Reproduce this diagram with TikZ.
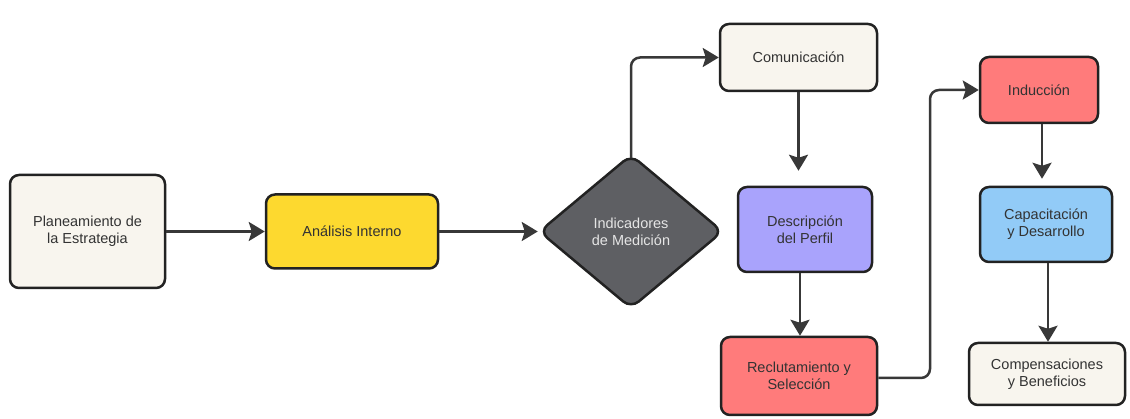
\documentclass[tikz,border=0pt]{standalone}
\usepackage{fontspec}
\setmainfont{Liberation Sans}
\usetikzlibrary{arrows.meta,shapes.geometric,calc}
\definecolor{cream}{HTML}{F8F5EE}
\definecolor{yel}{HTML}{FDD92F}
\definecolor{dgray}{HTML}{5E5F63}
\definecolor{purp}{HTML}{A9A3FC}
\definecolor{salmon}{HTML}{FF7B7B}
\definecolor{lblue}{HTML}{92CBF7}
\definecolor{edge}{HTML}{222222}
\definecolor{txt}{HTML}{333333}
\begin{document}
\begin{tikzpicture}[x=1pt,y=-1pt,
  box/.style={draw=edge,line width=2.5pt,rounded corners=9pt,align=center,
    font=\fontsize{14.5}{17}\selectfont,text=txt,inner sep=0pt},
  conn/.style={draw=edge!90!white,line width=2.5pt,-{Stealth[length=16pt,width=19pt,inset=3pt]}},
]
\useasboundingbox (0,0) rectangle (1130,419);
\fill[white] (0,0) rectangle (1130,419);

\node[box,fill=cream,minimum width=155pt,minimum height=113pt] (plan) at (87.5,231.5) {Planeamiento de\\la Estrategia};
\node[box,fill=yel,minimum width=172pt,minimum height=74pt] (anal) at (352,231.5) {Análisis Interno};
\node[draw=edge,line width=2.5pt,fill=dgray,diamond,rounded corners=10pt,minimum width=184pt,minimum height=154pt,inner sep=0pt,align=center,font=\fontsize{14.5}{17}\selectfont,text=white!90!black] (diam) at (631,231.5) {Indicadores\\de Medición};
\node[box,fill=cream,minimum width=157pt,minimum height=67pt] (comm) at (798.5,57.5) {Comunicación};
\node[box,fill=purp,minimum width=134pt,minimum height=85pt] (desc) at (805,229.5) {Descripción\\del Perfil};
\node[box,fill=salmon,minimum width=156pt,minimum height=78pt] (recl) at (799,376) {Reclutamiento y\\Selección};
\node[box,fill=salmon,minimum width=118pt,minimum height=66pt] (ind) at (1039,90) {Inducción};
\node[box,fill=lblue,minimum width=132pt,minimum height=75pt] (cap) at (1046,224.5) {Capacitación\\y Desarrollo};
\node[box,fill=cream,minimum width=156pt,minimum height=62pt] (comp) at (1047,374) {Compensaciones\\y Beneficios};

\coordinate (bend) at (930,378);

\draw[conn] (plan.east) -- (anal.west);
\draw[conn] (anal.east) -- (diam.west);
\draw[conn,rounded corners=9pt] ([yshift=-5pt]diam.north) |- (comm.west);
\draw[conn,shorten >=15pt] (comm.south) -- (comm.south |- desc.north);
\draw[conn] ([xshift=-5pt]desc.south) -- ([xshift=-5pt]desc.south |- recl.north);
\draw[conn,rounded corners=9pt] (recl.east |- bend) -- (bend) |- (ind.west);
\draw[conn,shorten >=7pt] ([xshift=3pt]ind.south) -- ([xshift=3pt]ind.south |- cap.north);
\draw[conn] ([xshift=2pt]cap.south) -- ([xshift=2pt]cap.south |- comp.north);
\end{tikzpicture}
\end{document}
